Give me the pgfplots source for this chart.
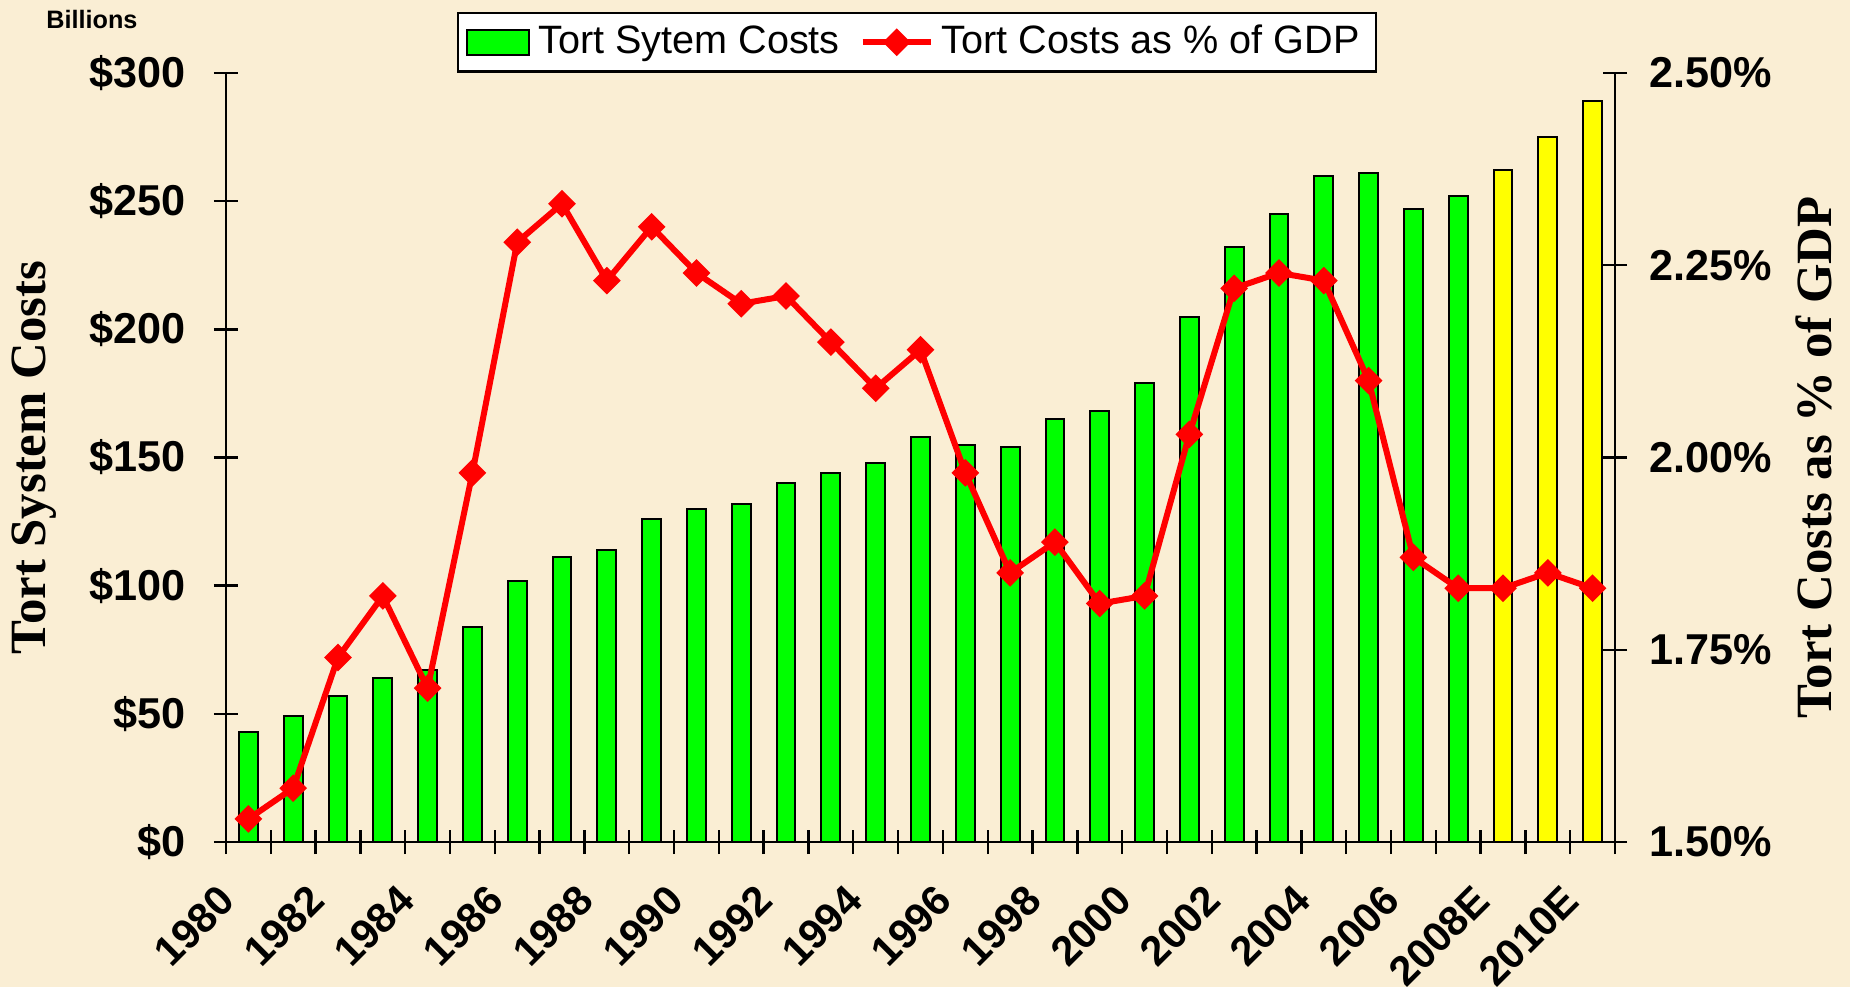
\documentclass[border=0pt]{standalone}
\usepackage{pgfplots}
\usepackage{pgfplotstable}
\pgfplotsset{compat=1.18}
\usepackage{fontspec}
\setmainfont{Liberation Sans}
\newfontfamily\serifbf{Liberation Serif}
\definecolor{bg}{RGB}{250,238,212}
\definecolor{bargreen}{RGB}{0,255,0}
\definecolor{baryellow}{RGB}{255,255,0}
\definecolor{linered}{RGB}{255,0,0}

\pgfplotsset{
  barlegend/.style={legend image code/.code={\draw[##1] (0bp,-3.1bp) rectangle (15.5bp,3.1bp);}},
  linelegend/.style={legend image code/.code={\draw[mark repeat=2,mark phase=2,##1] plot coordinates {(0bp,0bp) (8.5bp,0bp) (17bp,0bp)};}},
}

\pgfplotstableread{
x cost
0 43
1 49
2 57
3 64
4 67
5 84
6 102
7 111
8 114
9 126
10 130
11 132
12 140
13 144
14 148
15 158
16 155
17 154
18 165
19 168
20 179
21 205
22 232
23 245
24 260
25 261
26 247
27 252
}\greentable

\pgfplotstableread{
x cost
28 262
29 275
30 289
}\yellowtable

\pgfplotstableread{
x pct
0 1.53
1 1.57
2 1.74
3 1.82
4 1.70
5 1.98
6 2.28
7 2.33
8 2.23
9 2.30
10 2.24
11 2.20
12 2.21
13 2.15
14 2.09
15 2.14
16 1.98
17 1.85
18 1.89
19 1.81
20 1.82
21 2.03
22 2.22
23 2.24
24 2.23
25 2.10
26 1.87
27 1.83
28 1.83
29 1.85
30 1.83
}\pcttable

\begin{document}
\begin{tikzpicture}
\fill[bg] (-56.5bp,-36.25bp) rectangle (406bp,210.5bp);
\begin{axis}[
  at={(0,0)}, anchor=south west,
  scale only axis, width=347.25bp, height=192.25bp,
  xmin=-0.5, xmax=30.5, ymin=0, ymax=300,
  axis x line*=bottom, axis y line*=left,
  axis line style={line width=0.6bp, black, -},
  tick align=center, major tick length=6bp,
  every tick/.style={line width=0.6bp, black},
  xtick={-0.5,0.5,...,30.5}, xticklabels={},
  extra x ticks={0,2,...,30},
  extra x tick labels={1980,1982,1984,1986,1988,1990,1992,1994,1996,1998,2000,2002,2004,2006,2008E,2010E},
  extra x tick style={major tick length=0pt},
  xticklabel style={rotate=45, anchor=north east, inner sep=0pt, xshift=-12.6bp, yshift=-1.44bp,
      font=\fontsize{10.4bp}{12.5bp}\selectfont\bfseries},
  ytick={0,50,...,300},
  yticklabels={\$0,\$50,\$100,\$150,\$200,\$250,\$300},
  yticklabel style={font=\fontsize{10.8bp}{13bp}\selectfont\bfseries, inner sep=0pt, xshift=-7bp},
  ylabel={\serifbf\bfseries Tort System Costs},
  ylabel style={at={(axis description cs:-0.138,0.5)}, anchor=center, rotate=0,
    font=\fontsize{12.7bp}{14bp}\selectfont},
  clip=false,
]
\addplot[ybar, bar width=0.42, bar shift=0pt, fill=bargreen, draw=black, line width=0.5bp]
  table[x=x, y=cost]{\greentable};
\addplot[ybar, bar width=0.42, bar shift=0pt, fill=baryellow, draw=black, line width=0.5bp]
  table[x=x, y=cost]{\yellowtable};
\node[font=\fontsize{6.3bp}{7bp}\selectfont\bfseries, anchor=center] at (axis description cs:-0.0965,1.070) {Billions};
\end{axis}
\begin{axis}[
  at={(0,0)}, anchor=south west,
  scale only axis, width=347.25bp, height=192.25bp,
  xmin=-0.5, xmax=30.5, ymin=1.5, ymax=2.5,
  axis x line=none, axis y line*=right,
  axis line style={line width=0.6bp, black, -},
  tick align=center, major tick length=6bp,
  every tick/.style={line width=0.6bp, black},
  ytick={1.5,1.75,2,2.25,2.5},
  yticklabels={1.50\%,1.75\%,2.00\%,2.25\%,2.50\%},
  yticklabel style={font=\fontsize{10.8bp}{13bp}\selectfont\bfseries, inner sep=0pt, xshift=5.3bp},
  ylabel={\serifbf\bfseries Tort Costs as \% of GDP},
  ylabel style={at={(axis description cs:1.143,0.5)}, anchor=center, rotate=0,
    font=\fontsize{12.7bp}{14bp}\selectfont},
  clip=false,
  legend columns=2,
  legend style={at={(axis description cs:0.4975,1.040)}, anchor=center,
    draw=black, line width=0.6bp, fill=white, inner xsep=2bp, inner ysep=1.5bp,
    font=\fontsize{9.9bp}{12bp}\selectfont,
    nodes={inner xsep=2bp, inner ysep=1.5bp},
    /tikz/every even column/.append style={column sep=3bp}},
]
\addlegendimage{fill=bargreen, draw=black, line width=0.5bp, barlegend}
\addlegendentry{Tort Sytem Costs}
\addplot[linered, line width=1.5bp, mark=square*, mark size=2.2bp,
  mark options={rotate=45, fill=linered, draw=linered, line width=0.5bp}, linelegend]
  table[x=x, y=pct]{\pcttable};
\addlegendentry{Tort Costs as \% of GDP}
\end{axis}
\pgfresetboundingbox
\path[use as bounding box] (-56.5bp,-36.25bp) rectangle (406bp,210.5bp);
\end{tikzpicture}
\end{document}
